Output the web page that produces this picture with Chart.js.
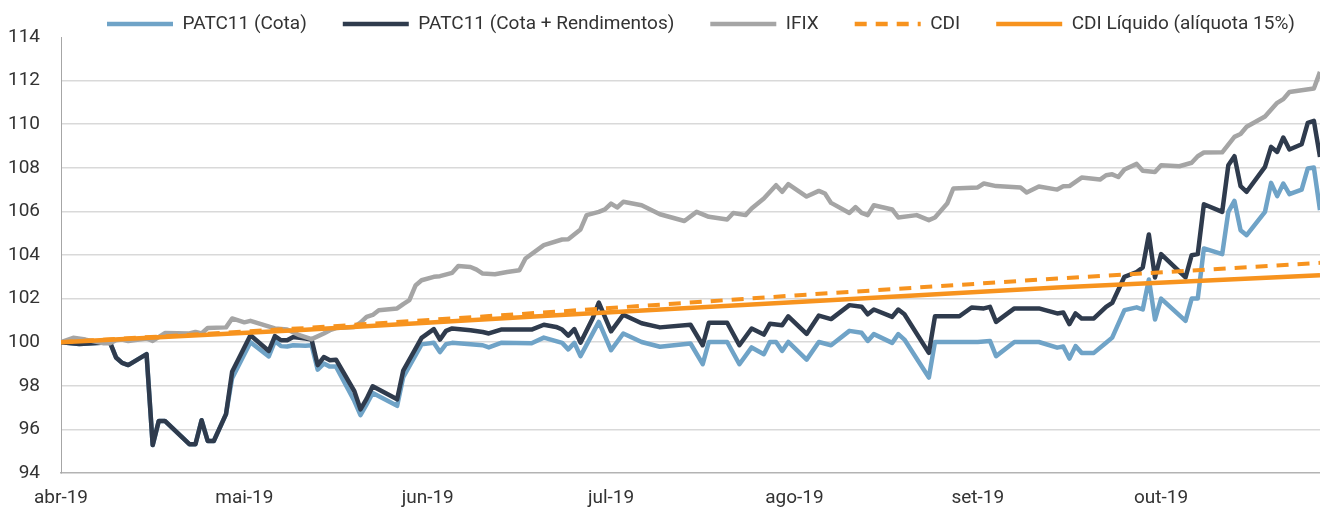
<!DOCTYPE html>
<html>
<head>
<meta charset="utf-8">
<script src="https://cdn.jsdelivr.net/npm/chart.js@4.4.0/dist/chart.umd.min.js"></script>
<style>
  html, body { margin: 0; padding: 0; background: #fff; }
</style>
</head>
<body>
<canvas id="perfChart" width="1320" height="510"></canvas>
<script>
// x axis: one label every 30 points
const monthLabels = ['abr-19', 'mai-19', 'jun-19', 'jul-19', 'ago-19', 'set-19', 'out-19'];

// [point index, value] - base 100 at the start of abr-19
const cotaPts = [
    [0, 100], [3, 99.92], [8, 100.0], [9, 99.3], [10, 99.05], [11, 98.95], [14, 99.45], [15, 95.28],
    [16, 96.39], [17, 96.39], [21, 95.32], [22, 95.32], [23, 96.42], [24, 95.47], [25, 95.47], [27, 96.7],
    [28, 98.35], [31, 100.0], [34, 99.35], [35, 100.05], [36, 99.82], [37, 99.8], [38, 99.86], [40, 99.84],
    [41, 99.86], [42, 98.74], [43, 99.02], [44, 98.88], [45, 98.88], [48, 97.3], [49, 96.65], [50, 97.15],
    [51, 97.67], [55, 97.08], [56, 98.4], [59, 99.9], [61, 99.97], [62, 99.55], [63, 99.91], [64, 99.97],
    [67, 99.91], [69, 99.86], [70, 99.76], [72, 99.97], [77, 99.95], [79, 100.21], [81, 100.05], [82, 99.97],
    [83, 99.67], [84, 99.97], [85, 99.36], [88, 100.93], [90, 99.63], [92, 100.4], [95, 100.01], [98, 99.79],
    [103, 99.94], [105, 98.99], [106, 100.01], [109, 100.01], [111, 98.99], [113, 99.76], [115, 99.45],
    [116, 100.01], [117, 100.01], [118, 99.6], [119, 100.01], [122, 99.2], [124, 100.01], [126, 99.86],
    [129, 100.52], [131, 100.43], [132, 100.06], [133, 100.37], [136, 99.97], [137, 100.37], [138, 100.12],
    [142, 98.38], [143, 100.01], [147, 100.01], [150, 100.01], [152, 100.06], [153, 99.36], [156, 100.01],
    [160, 100.01], [163, 99.75], [164, 99.8], [165, 99.25], [166, 99.82], [167, 99.51], [169, 99.51],
    [171, 99.97], [172, 100.21], [174, 101.47], [176, 101.6], [177, 101.5], [178, 102.88], [179, 101.04],
    [180, 102.0], [184, 100.98], [185, 102.0], [186, 102.0], [187, 104.3], [190, 104.04], [191, 105.98],
    [192, 106.48], [193, 105.14], [194, 104.91], [197, 105.98], [198, 107.31], [199, 106.7], [200, 107.28],
    [201, 106.79], [203, 107.0], [204, 107.97], [205, 108.01], [206, 106.06]
];

const cotaRendPts = [
    [0, 100], [3, 99.92], [8, 100.0], [9, 99.3], [10, 99.05], [11, 98.95], [14, 99.45], [15, 95.28],
    [16, 96.39], [17, 96.39], [21, 95.32], [22, 95.32], [23, 96.42], [24, 95.47], [25, 95.47], [27, 96.7],
    [28, 98.64], [31, 100.32], [34, 99.6], [35, 100.28], [36, 100.09], [37, 100.09], [38, 100.24], [40, 100.17],
    [41, 100.12], [42, 98.95], [43, 99.32], [44, 99.17], [45, 99.2], [48, 97.75], [49, 96.92], [50, 97.4],
    [51, 97.98], [55, 97.38], [56, 98.7], [59, 100.2], [61, 100.6], [62, 100.12], [63, 100.52], [64, 100.63],
    [67, 100.55], [69, 100.47], [70, 100.4], [72, 100.58], [77, 100.58], [79, 100.8], [81, 100.7], [82, 100.58],
    [83, 100.3], [84, 100.6], [85, 99.98], [87, 101.1], [88, 101.82], [90, 100.5], [92, 101.26], [95, 100.87],
    [98, 100.68], [103, 100.8], [105, 99.86], [106, 100.89], [109, 100.89], [111, 99.86], [113, 100.63],
    [115, 100.35], [116, 100.85], [118, 100.78], [119, 101.19], [122, 100.38], [124, 101.22], [126, 101.06],
    [129, 101.7], [131, 101.63], [132, 101.28], [133, 101.5], [136, 101.16], [137, 101.5], [138, 101.28],
    [142, 99.51], [143, 101.19], [147, 101.19], [149, 101.59], [151, 101.55], [152, 101.62], [153, 100.93],
    [156, 101.55], [160, 101.55], [163, 101.32], [164, 101.36], [165, 100.83], [166, 101.32], [167, 101.09],
    [169, 101.09], [171, 101.62], [172, 101.8], [174, 103.0], [176, 103.22], [177, 103.43], [178, 104.94],
    [179, 102.97], [180, 104.04], [184, 102.97], [185, 103.99], [186, 104.04], [187, 106.33], [190, 105.98],
    [191, 108.12], [192, 108.53], [193, 107.16], [194, 106.9], [197, 108.04], [198, 108.96], [199, 108.73],
    [200, 109.39], [201, 108.84], [203, 109.08], [204, 110.06], [205, 110.15], [206, 108.5]
];

const ifixPts = [
    [0, 100], [2, 100.2], [4, 100.12], [7, 99.95], [8, 99.95], [9, 100.09], [10, 100.12], [11, 100.05],
    [14, 100.17], [15, 100.06], [17, 100.42], [21, 100.4], [22, 100.47], [23, 100.4], [24, 100.65], [27, 100.68],
    [28, 101.09], [30, 100.91], [31, 100.98], [35, 100.63], [37, 100.58], [39, 100.32], [41, 100.14], [43, 100.4],
    [44, 100.55], [45, 100.65], [48, 100.7], [49, 100.9], [50, 101.16], [51, 101.25], [52, 101.47], [55, 101.55],
    [56, 101.75], [57, 101.93], [58, 102.6], [59, 102.84], [61, 103.0], [62, 103.03], [64, 103.18], [65, 103.5],
    [67, 103.45], [68, 103.33], [69, 103.15], [71, 103.12], [73, 103.22], [75, 103.3], [76, 103.84], [79, 104.45],
    [82, 104.71], [83, 104.72], [85, 105.17], [86, 105.83], [88, 105.98], [89, 106.09], [90, 106.36], [91, 106.18],
    [92, 106.44], [95, 106.28], [98, 105.87], [102, 105.56], [104, 105.98], [106, 105.75], [109, 105.63],
    [110, 105.93], [112, 105.83], [113, 106.13], [115, 106.59], [117, 107.2], [118, 106.9], [119, 107.25],
    [122, 106.68], [124, 106.94], [125, 106.82], [126, 106.39], [129, 105.93], [130, 106.2], [131, 105.93],
    [132, 105.83], [133, 106.28], [136, 106.09], [137, 105.72], [140, 105.83], [142, 105.6], [143, 105.72],
    [145, 106.36], [146, 107.05], [150, 107.1], [151, 107.28], [153, 107.16], [157, 107.1], [158, 106.87],
    [160, 107.14], [163, 107.0], [164, 107.15], [165, 107.16], [167, 107.55], [170, 107.46], [171, 107.66],
    [172, 107.7], [173, 107.58], [174, 107.92], [176, 108.18], [177, 107.86], [179, 107.81], [180, 108.12],
    [183, 108.07], [185, 108.23], [186, 108.53], [187, 108.7], [190, 108.71], [192, 109.42], [193, 109.55],
    [194, 109.88], [197, 110.35], [199, 110.98], [200, 111.15], [201, 111.48], [205, 111.64], [206, 112.4]
];

const cdiPts = [[0, 100], [40, 100.65], [81, 101.4], [122, 102.18], [163, 102.92], [206, 103.64]];
const cdiLiqPts = [[0, 100], [40, 100.57], [81, 101.24], [122, 101.87], [163, 102.51], [206, 103.07]];

const toXY = pts => pts.map(([x, y]) => ({ x, y }));

// put the legend where the original has it (left of centre, above the plot top).
// only top moves, bottom stays so the legend clip box still holds the text
const legendNudge = {
    id: 'legendNudge',
    afterLayout(chart) {
        const lg = chart.legend;
        lg.left += 63;
        lg.right += 63;
        lg.top -= 21.5;
    }
};

Chart.defaults.font.family = 'Roboto';
Chart.defaults.font.size = 19;
Chart.defaults.color = '#333333';

// first dataset is drawn on top, so the CDI lines come first
new Chart(document.getElementById('perfChart'), {
    type: 'line',
    data: {
        datasets: [
            {
                label: 'CDI Líquido (alíquota 15%)',
                data: toXY(cdiLiqPts),
                borderColor: '#f7931e',
                borderWidth: 4.5
            },
            {
                label: 'CDI',
                data: toXY(cdiPts),
                borderColor: '#f7931e',
                borderWidth: 4,
                borderDash: [12, 9]
            },
            {
                label: 'IFIX',
                data: toXY(ifixPts),
                borderColor: '#a5a5a5',
                borderWidth: 4.5
            },
            {
                label: 'PATC11 (Cota + Rendimentos)',
                data: toXY(cotaRendPts),
                borderColor: '#2f3b4d',
                borderWidth: 4.5
            },
            {
                label: 'PATC11 (Cota)',
                data: toXY(cotaPts),
                borderColor: '#6fa3c7',
                borderWidth: 4.5
            }
        ]
    },
    options: {
        responsive: false,
        animation: false,
        layout: { padding: { left: 8 } },
        elements: {
            point: { radius: 0 },
            line: { tension: 0, borderJoinStyle: 'round' }
        },
        plugins: {
            tooltip: { enabled: false },
            legend: {
                position: 'top',
                align: 'start',
                reverse: true,
                maxHeight: 37,
                labels: {
                    usePointStyle: true,
                    pointStyle: 'line',
                    pointStyleWidth: 66,
                    padding: 36,
                    color: '#333333',
                    generateLabels(chart) {
                        return Chart.defaults.plugins.legend.labels.generateLabels(chart).map(item => {
                            const ds = chart.data.datasets[item.datasetIndex];
                            return Object.assign(item, {
                                strokeStyle: ds.borderColor,
                                fillStyle: ds.borderColor,
                                lineWidth: 4.5,
                                lineDash: ds.borderDash || [],
                                lineCap: 'butt'
                            });
                        });
                    }
                }
            }
        },
        scales: {
            x: {
                type: 'linear',
                min: 0,
                max: 206,
                grid: { display: false, drawTicks: false },
                border: { display: true, color: '#b3b3b3', width: 1.5 },
                ticks: {
                    stepSize: 30,
                    autoSkip: false,
                    maxRotation: 0,
                    includeBounds: false,
                    padding: 14,
                    callback: v => (v % 30 === 0 ? monthLabels[v / 30] : '')
                },
                afterFit: scale => { scale.height = 37; }
            },
            y: {
                min: 94,
                max: 114,
                grid: {
                    drawTicks: false,
                    color: ctx => (ctx.tick.value === 114 || ctx.tick.value === 94) ? 'rgba(0,0,0,0)' : '#d9d9d9',
                    lineWidth: 1.5
                },
                border: { display: true, color: '#a6a6a6', width: 1 },
                ticks: { stepSize: 2, padding: 21 },
                afterFit: scale => { scale.width = 53; }
            }
        }
    },
    plugins: [legendNudge]
});
</script>
</body>
</html>
